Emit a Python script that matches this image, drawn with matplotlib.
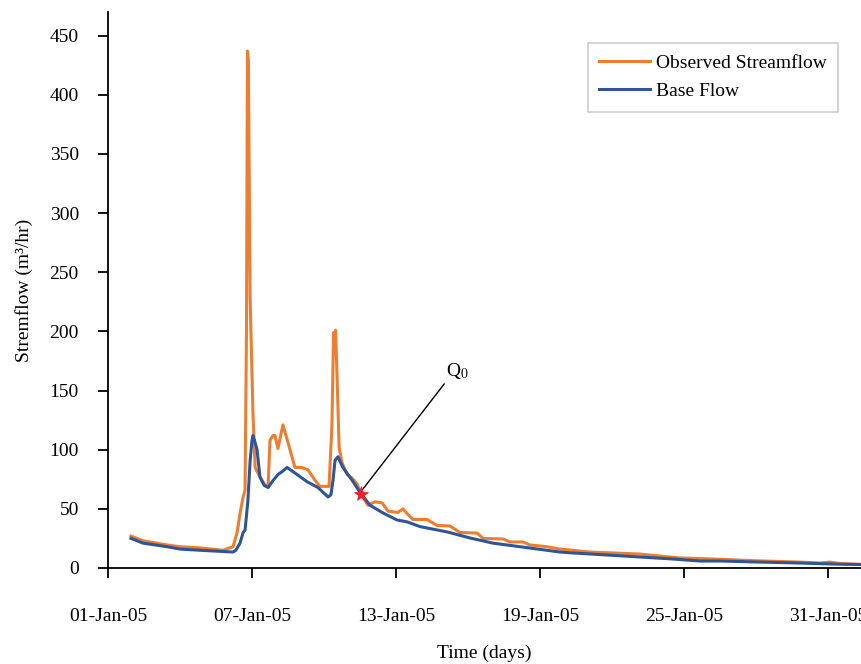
import matplotlib
matplotlib.use("Agg")
import matplotlib.pyplot as plt
import matplotlib.dates as mdates
import pandas as pd

# Observed streamflow: time in days after 01-Jan-2005, flow in m3/hr
obs_day = [0.96, 1.46, 2.46, 3.00, 3.83, 4.79, 5.21, 5.38, 5.50, 5.63, 5.71, 5.77, 5.81, 5.85,
           5.92, 6.04, 6.13, 6.33, 6.58, 6.67, 6.75, 6.88, 6.96, 7.08, 7.29, 7.50,
           7.79, 8.08, 8.33, 8.63, 8.83, 9.21, 9.33, 9.40, 9.44, 9.48, 9.54, 9.63,
           9.75, 9.96, 10.17, 10.38, 10.54, 10.83, 11.13, 11.42, 11.67, 12.08, 12.29,
           12.46, 12.71, 13.29, 13.71, 14.25, 14.67, 15.38, 15.63, 16.46, 16.75,
           17.29, 17.58, 18.29, 18.83, 20.08, 21.04, 22.17, 23.00, 23.83, 25.21,
           27.17, 28.83, 29.67, 30.08, 30.50, 31.38]
obs_flow = [27, 23, 19.5, 18, 17, 15, 18, 30, 46, 60, 66, 200, 437, 430,
            230, 131, 85, 77, 69, 69, 108, 112, 112, 101, 121, 106,
            85, 85, 83, 74, 69, 69, 120, 199, 193, 201, 165, 102,
            89, 79, 76, 71, 62.6, 53, 56, 55, 48, 47, 50,
            46, 41, 41, 36, 35.5, 30, 29.5, 25, 24.5, 22,
            22, 19.5, 18, 16, 13.5, 12.7, 11.8, 10.1, 8.5, 7.6,
            6.0, 5.0, 4.2, 5.0, 3.8, 3.0]

# Separated base flow
base_day = [0.96, 1.46, 2.46, 3.00, 3.83, 5.21, 5.33, 5.50, 5.63, 5.71, 5.83, 5.92, 6.00, 6.04,
            6.13, 6.21, 6.33, 6.50, 6.67, 6.88, 7.08, 7.29, 7.46, 7.67, 7.88, 8.29,
            8.75, 9.17, 9.29, 9.38, 9.46, 9.58, 9.67, 9.79, 10.21, 10.54, 10.92,
            11.46, 12.04, 12.46, 13.00, 14.13, 15.08, 16.04, 17.17, 18.83, 19.38,
            20.79, 22.17, 23.54, 24.67, 25.50, 27.17, 28.83, 30.50, 31.38]
base_flow = [25, 21, 18, 16, 15, 13.5, 15, 21, 30, 32, 57, 90, 108, 112,
             106, 100, 77, 70, 68, 74, 79, 82, 85, 82, 79, 73,
             68, 60, 62, 75, 91, 94, 90, 85, 73, 62.6, 53,
             46.5, 40.6, 39, 35, 30.5, 25.4, 21, 18, 13.5, 12.7,
             11, 9.3, 7.6, 5.9, 5.9, 5.0, 4.2, 3.2, 3.0]

# Recession starting point
q0_day = 10.54
q0_flow = 62.6

tick_dates = ["2005-01-01", "2005-01-07", "2005-01-13", "2005-01-19",
              "2005-01-25", "2005-01-31"]
y_ticks = [0, 50, 100, 150, 200, 250, 300, 350, 400, 450]

start = pd.Timestamp("2005-01-01")
def to_time(days):
    return start + pd.to_timedelta(pd.Series(days), unit="D")

plt.rcParams["font.family"] = ["Liberation Serif", "DejaVu Serif"]
plt.rcParams["mathtext.fontset"] = "stix"

fig = plt.figure(figsize=(8.61, 6.64), dpi=100)
ax = fig.add_axes([108 / 861, 96 / 664, 1 - 108 / 861, (568 - 12) / 664])

orange = "#ED7D31"
blue = "#2F5597"
ax.plot(to_time(obs_day), obs_flow, color=orange, lw=2.2, label="Observed Streamflow",
        solid_joinstyle="round")
ax.plot(to_time(base_day), base_flow, color=blue, lw=2.2, label="Base Flow",
        solid_joinstyle="round")

q0_t = to_time([q0_day])[0]
ax.plot([q0_t], [q0_flow], marker="*", ms=11, color="#E8212B", mec="#E8212B",
        mew=0.5, zorder=5)
ax.annotate(r"Q$_0$", xy=(q0_t, q0_flow + 2),
            xytext=(start + pd.Timedelta(days=14.1), 158),
            fontsize=14, ha="left", va="bottom",
            arrowprops=dict(arrowstyle="-", color="black", lw=1.0,
                            shrinkA=0, shrinkB=2, relpos=(0.0, 0.0)))

ax.set_xlim(start, start + pd.Timedelta(days=31.375))
ax.set_ylim(0, 470)
ax.set_xticks(pd.to_datetime(tick_dates))
ax.xaxis.set_major_formatter(mdates.DateFormatter("%d-%b-%y"))
ax.set_yticks(y_ticks)

for side in ("top", "right"):
    ax.spines[side].set_visible(False)
for side in ("left", "bottom"):
    ax.spines[side].set_linewidth(1.3)
ax.tick_params(axis="both", direction="out", length=7, width=1.3, labelsize=14)
ax.tick_params(axis="x", pad=22)
ax.tick_params(axis="y", pad=14)

ax.set_xlabel("Time (days)", fontsize=14, labelpad=14)
ax.set_ylabel("Stremflow (m³/hr)", fontsize=14, labelpad=12)

leg = ax.legend(loc="upper right", bbox_to_anchor=((848 - 108) / (861 - 108), (568 - 33) / 556),
                fontsize=14, frameon=True, fancybox=False, handlelength=2.6,
                handletextpad=0.3, borderpad=0.6, labelspacing=0.55)
leg.get_frame().set_edgecolor("#BFBFBF")
leg.get_frame().set_linewidth(1.2)

fig.savefig("out.png", dpi=100)
